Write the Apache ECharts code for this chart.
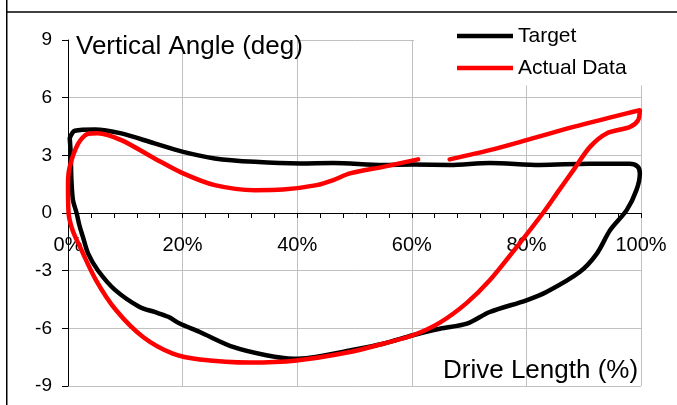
<!DOCTYPE html>
<html>
<head>
<meta charset="utf-8">
<script src="https://cdn.jsdelivr.net/npm/echarts@6/dist/echarts.min.js"></script>
<style>
  html, body { margin: 0; padding: 0; background: #fff; }
  #chart { width: 677px; height: 405px; }
</style>
</head>
<body>
<div id="chart"></div>
<script>
  // drive length (%) / vertical angle (deg)
  const seriesNames = ['Target', 'Actual Data']
  const xTicks = [0, 20, 40, 60, 80, 100]
  const yTicks = [-9, -6, -3, 0, 3, 6, 9]

  // closed loop
  const targetData = [
    [0.3, 3.9], [1.2, 4.28], [4.7, 4.35], [9.3, 4.14], [15.1, 3.62], [20.1, 3.18],
    [25.6, 2.84], [32.6, 2.66], [40.5, 2.58], [46.3, 2.6], [55, 2.5], [60.2, 2.52],
    [66.6, 2.5], [73.6, 2.6], [82.4, 2.5], [91, 2.56], [98, 2.56], [99.4, 2.42],
    [99.8, 2.06], [99.2, 1.19], [97.5, 0.15], [94.6, -0.9], [92.3, -2.11], [89.3, -3.07],
    [83.5, -4.11], [80, -4.54], [73.6, -5.15], [69.6, -5.76], [64.9, -6.02], [60.2, -6.36],
    [55, -6.8], [49.2, -7.15], [42.2, -7.53], [39.3, -7.58], [34.6, -7.4], [28.8, -6.97],
    [23, -6.19], [19.5, -5.75], [17.5, -5.4], [15.1, -5.15], [12.5, -4.89], [8.2, -4.0],
    [5.2, -2.98], [3.5, -2.1], [2.6, -1.24], [2.0, -0.65], [1.5, 0], [0.87, 0.67],
    [0.6, 1.7], [0.47, 3.1], [0.3, 3.9]
  ]

  // open loop, gap at ~61-67%
  const actualData = [
    [61.1, 2.79], [55, 2.4], [49.2, 2.06], [46.3, 1.71], [43.4, 1.45], [37.5, 1.22],
    [32.6, 1.19], [25.6, 1.45], [20.1, 2.06], [15.1, 2.84], [9.3, 3.79], [5.2, 4.15],
    [3.5, 4.12], [1.75, 3.6], [0.3, 2.4], [0, 1.5], [0.1, 0], [0.8, -0.9],
    [2.1, -1.77], [4.9, -3.5], [8.4, -5.06], [13.1, -6.45], [18.3, -7.32], [23, -7.62],
    [31.7, -7.78], [39.9, -7.67], [49.2, -7.23], [55, -6.8], [60.2, -6.36], [64.9, -5.7],
    [69.5, -4.7], [73.6, -3.5], [78.3, -1.77], [82.9, 0], [85.5, 1.1], [88.2, 2.23],
    [91.1, 3.44], [94, 4.14], [98.1, 4.48], [99.5, 4.83], [99.8, 5.35], [97.5, 5.18],
    [94, 4.92], [88.2, 4.48], [80, 3.79], [73.6, 3.27], [66.6, 2.79]
  ]

  const font = "'Liberation Sans', Arial, sans-serif"
  const gridColor = '#c0c0c0'
  const gridTop = 40
  const gridBottom = 19
  const chartH = 405
  // x axis sits on the zero line, halfway down the plot
  const zeroOffset = -(chartH - gridTop - gridBottom) / 2

  let myChart = echarts.init(document.getElementById('chart'), null, { renderer: 'canvas' })
  let option = {
    animation: false,
    textStyle: { fontFamily: font },
    grid: { left: 68, right: 36, top: gridTop, bottom: gridBottom, outerBoundsMode: 'none', containLabel: false },
    legend: {
      orient: 'vertical',
      left: 414,
      top: 20.5,
      padding: [5, 24, 7, 43],
      backgroundColor: '#fff',
      icon: 'rect',
      itemWidth: 56,
      itemHeight: 4.5,
      itemGap: 11,
      textStyle: { fontSize: 21, lineHeight: 21, color: '#000', fontFamily: font },
      data: seriesNames
    },
    xAxis: {
      type: 'value',
      position: 'bottom',
      offset: zeroOffset,
      min: xTicks[0],
      max: xTicks[xTicks.length - 1],
      interval: 20,
      axisLine: { onZero: false, lineStyle: { color: '#000', width: 1 } },
      axisTick: { show: true, length: 5, lineStyle: { color: '#000' } },
      minorTick: { show: true, splitNumber: 5, length: 5, lineStyle: { color: '#000' } },
      splitLine: { show: true, lineStyle: { color: gridColor, width: 1 } },
      axisLabel: { formatter: '{value}%', fontSize: 20, color: '#000', margin: 22, fontFamily: font }
    },
    yAxis: {
      type: 'value',
      min: yTicks[0],
      max: yTicks[yTicks.length - 1],
      interval: 3,
      axisLine: { show: true, onZero: false, lineStyle: { color: '#000', width: 1 } },
      axisTick: { show: true, length: 6, lineStyle: { color: '#000' } },
      splitLine: { show: true, lineStyle: { color: gridColor, width: 1 } },
      axisLabel: { fontSize: 19, color: '#000', margin: 16, fontFamily: font }
    },
    graphic: [
      // outer frame
      { type: 'line', z: 10, shape: { x1: 6.75, y1: 0, x2: 6.75, y2: 405 }, style: { stroke: '#000', lineWidth: 1.5 } },
      { type: 'line', z: 10, shape: { x1: 6.75, y1: 12, x2: 677, y2: 12 }, style: { stroke: '#000', lineWidth: 1.5 } },
      // axis titles
      { type: 'rect', z: 1, shape: { x: 69, y: 28, width: 228, height: 25 }, style: { fill: '#fff' } },
      { type: 'text', z: 5, style: { text: 'Vertical Angle (deg)', x: 76, y: 46.5, verticalAlign: 'middle', font: '26px ' + font, fill: '#000' } },
      { type: 'text', z: 5, style: { text: 'Drive Length (%)', x: 443, y: 371, verticalAlign: 'middle', font: '26px ' + font, fill: '#000' } }
    ],
    series: [
      {
        name: seriesNames[0],
        type: 'line',
        data: targetData,
        smooth: 0.3,
        showSymbol: false,
        symbol: 'none',
        color: '#000',
        lineStyle: { color: '#000', width: 4.5, cap: 'round', join: 'round' }
      },
      {
        name: seriesNames[1],
        type: 'line',
        data: actualData,
        smooth: 0.3,
        showSymbol: false,
        symbol: 'none',
        color: '#ff0000',
        lineStyle: { color: '#ff0000', width: 4.5, cap: 'round', join: 'round' }
      }
    ]
  }
  myChart.setOption(option)
</script>
</body>
</html>
